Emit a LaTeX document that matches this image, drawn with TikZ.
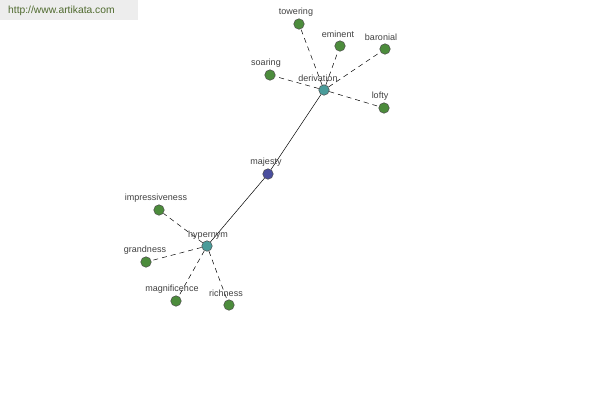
\documentclass[tikz,border=0pt]{standalone}
\usepackage{fontspec}
\setmainfont{Liberation Sans}
\definecolor{urlcol}{HTML}{4F6A2E}
\definecolor{leafcol}{HTML}{4C8C3C}
\definecolor{hubcol}{HTML}{4A9C9A}
\definecolor{rootcol}{HTML}{4A4E9E}
\begin{document}
\begin{tikzpicture}[x=1pt,y=-1pt,
  dot/.style={circle,draw=black!70,line width=0.5pt,minimum size=10.5pt,inner sep=0pt},
  leaf/.style={dot,fill=leafcol},
  hub/.style={dot,fill=hubcol},
  root/.style={dot,fill=rootcol},
  lbl/.style={font=\fontsize{9}{10}\selectfont,text=black!75,inner sep=0pt},
  rel/.style={dash pattern=on 5pt off 4pt,line width=0.5pt},
  link/.style={line width=0.5pt}]
\useasboundingbox (0,0) rectangle (600,400);
\fill[black!7] (0,0) rectangle (138,20);
\node[font=\fontsize{10.3}{11}\selectfont,text=urlcol,anchor=west,inner sep=0pt] (url) at (8,11) {http://www.artikata.com};
% nodes
\node[root] (maj) at (268,174) {};
\node[hub] (der) at (324,90) {};
\node[hub] (hyp) at (207,246) {};
\node[leaf] (tow) at (299,24) {};
\node[leaf] (emi) at (340,46) {};
\node[leaf] (bar) at (385,49) {};
\node[leaf] (soa) at (270,75) {};
\node[leaf] (lof) at (384,108) {};
\node[leaf] (imp) at (159,210) {};
\node[leaf] (gra) at (146,262) {};
\node[leaf] (mag) at (176,301) {};
\node[leaf] (ric) at (229,305) {};
% edges
\draw[link] (maj) -- (der);
\draw[link] (maj) -- (hyp);
\foreach \n in {tow,emi,bar,soa,lof} \draw[rel] (der) -- (\n);
\foreach \n in {imp,gra,mag,ric} \draw[rel] (hyp) -- (\n);
% labels
\node[lbl] (lmaj) at (266,162) {majesty};
\node[lbl] (lder) at (318,78) {derivation};
\node[lbl] (lhyp) at (208,235) {hypernym};
\node[lbl] (ltow) at (296,12) {towering};
\node[lbl] (lemi) at (338,34) {eminent};
\node[lbl] (lbar) at (381,37) {baronial};
\node[lbl] (lsoa) at (266,63) {soaring};
\node[lbl] (llof) at (380,96) {lofty};
\node[lbl] (limp) at (156,198) {impressiveness};
\node[lbl] (lgra) at (145,250) {grandness};
\node[lbl] (lmag) at (172,289) {magnificence};
\node[lbl] (lric) at (226,293) {richness};
\end{tikzpicture}
\end{document}
